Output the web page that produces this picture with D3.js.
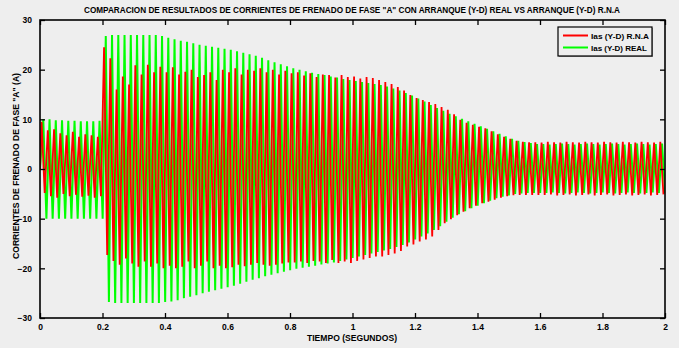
<!DOCTYPE html>
<html>
<head>
<meta charset="utf-8">
<script src="https://cdn.jsdelivr.net/npm/d3@7"></script>
<style>
  html, body { margin: 0; padding: 0; background: #eeeeee; }
  svg { display: block; font-family: "Liberation Sans", Arial, sans-serif; font-weight: bold; }
</style>
</head>
<body>
<div id="chart"></div>
<script>
// Comparison of phase "A" braking currents, RNA vs real (Y-D start)
// one entry per 50 Hz cycle: positive peak and negative trough of each cycle
const period = 0.02;
const xTicks = [0, 0.2, 0.4, 0.6, 0.8, 1, 1.2, 1.4, 1.6, 1.8, 2];
const yTicks = [-30, -20, -10, 0, 10, 20, 30];

const rnaPeaks = [
  9.5, 7.8, 8, 7.2, 6.8, 7.5, 6.5, 7, 6.8, 6.5,
  24.5, 22.3, 16, 18.6, 17, 20.9, 19, 21, 19.5, 20.6,
  19.5, 20.5, 19, 19.6, 20, 18.5, 18.9, 19.5, 17.9, 20,
  19.5, 20.3, 19, 20, 19.8, 20.3, 19.5, 20, 19, 19.8,
  19.3, 19.5, 18.8, 19.3, 18.5, 19, 18.9, 18.4, 18.9, 18.5,
  18.6, 18.2, 18.5, 18.3, 17.9, 17.5, 17.1, 16.5, 15.8, 14.9,
  14.3, 13.9, 13.5, 13.1, 12.5, 11.9, 11, 9.9, 9.3, 8.9,
  8.5, 8.2, 7.6, 7, 6.5, 6.1, 5.7, 5.5, 5.4, 5.4,
  5.3, 5.5, 5.4, 5.3, 5.5, 5.4, 5.3, 5.5, 5.4, 5.3,
  5.5, 5.4, 5.3, 5.5, 5.4, 5.3, 5.5, 5.4, 5.3, 5.5
];
const rnaTroughs = [
  -4.8, -5.5, -5.8, -5, -5.5, -5.2, -5.6, -5.4, -5.8, -5.5,
  -17.3, -18.5, -19.3, -18, -19, -19.7, -18.6, -19.7, -19, -20,
  -19.5, -20, -19.7, -18.6, -20, -19.5, -18.6, -20, -19.5, -20,
  -19.8, -19.3, -19.6, -19.3, -18.9, -19.3, -19.5, -19.3, -19, -18.8,
  -18.8, -18.6, -18.9, -18.5, -18.6, -18.9, -18.3, -18.9, -18.6, -18.9,
  -18.5, -18.2, -17.9, -17.6, -17.6, -17.3, -17, -16.5, -15.6, -15.2,
  -14.6, -14.2, -13.6, -12.3, -10.9, -10.1, -9.3, -8.6, -7.9, -7.4,
  -6.9, -6.6, -6.2, -5.8, -5.5, -5.3, -5.2, -5.2, -5.2, -5.2,
  -5.2, -5.1, -5.3, -5.2, -5.1, -5.3, -5.2, -5.1, -5.3, -5.2,
  -5.1, -5.3, -5.2, -5.1, -5.3, -5.2, -5.1, -5.3, -5.2, -5.1
];
const realPeaks = [
  10, 10, 9.8, 9.8, 9.7, 9.7, 9.6, 9.6, 9.6, 9.7,
  26.8, 27, 27, 27, 27, 27, 27, 27, 27, 26.8,
  26.4, 26.1, 25.8, 25.6, 25.3, 25, 24.8, 24.6, 24.4, 24.2,
  24, 23.7, 23.4, 23.1, 22.8, 22.4, 21.9, 21.5, 21.1, 20.7,
  20.3, 20, 19.7, 19.4, 19.1, 18.9, 18.6, 18.4, 18.1, 17.9,
  17.7, 17.5, 17.3, 17.1, 16.9, 16.6, 16.2, 15.8, 15.3, 14.8,
  14.2, 13.6, 12.9, 12.3, 11.7, 11.1, 10.6, 10.1, 9.6, 9.1,
  8.6, 8.1, 7.6, 7.1, 6.6, 6.1, 5.7, 5.4, 5.2, 5,
  5, 4.9, 5, 5.1, 5, 4.9, 5, 5.1, 5, 4.9,
  5, 5.1, 5, 4.9, 5, 5.1, 5, 4.9, 5, 5.1
];
const realTroughs = [
  -10, -10, -10, -10, -10, -10, -10, -10, -10, -10,
  -26.8, -27, -27, -27, -27, -27, -27, -27, -27, -26.8,
  -26.7, -26.4, -26, -25.7, -25.4, -25, -24.7, -24.4, -24.1, -23.8,
  -23.5, -23.1, -22.7, -22.3, -22, -21.6, -21.3, -21, -20.7, -20.4,
  -20.1, -19.9, -19.7, -19.5, -19.2, -19, -18.8, -18.5, -18.2, -17.9,
  -17.6, -17.3, -17, -16.7, -16.4, -16.1, -15.7, -15.3, -14.8, -14.2,
  -13.6, -13, -12.3, -11.5, -10.6, -9.8, -9.1, -8.5, -7.9, -7.4,
  -6.9, -6.4, -5.9, -5.6, -5.3, -5, -4.9, -4.8, -4.8, -4.8,
  -4.8, -4.7, -4.8, -4.9, -4.8, -4.7, -4.8, -4.9, -4.8, -4.7,
  -4.8, -4.9, -4.8, -4.7, -4.8, -4.9, -4.8, -4.7, -4.8, -4.9
];

const seriesNames = ["Ias (Y-D) R.N.A", "Ias (Y-D) REAL"];
const seriesColors = ["#ff0000", "#00ff00"];

const W = 679, H = 348;
const x0 = 40, x1 = 665, y0 = 20, y1 = 318;

const x = d3.scaleLinear().domain([0, 2]).range([x0, x1]);
const y = d3.scaleLinear().domain([-30, 30]).range([y1, y0]);

function cycles(peaks, troughs, phase) {
  const pts = [{ t: 0, v: 0 }];
  peaks.forEach((p, k) => {
    pts.push({ t: phase + k * period, v: p });
    pts.push({ t: phase + k * period + period / 2, v: troughs[k] });
  });
  return pts;
}

const svg = d3.select('#chart').append('svg')
  .attr('width', W).attr('height', H);

svg.append('rect').attr('width', W).attr('height', H).attr('fill', '#eeeeee');

svg.append('clipPath').attr('id', 'clip')
  .append('rect').attr('x', x0).attr('y', y0)
  .attr('width', x1 - x0).attr('height', y1 - y0);

const line = d3.line().x(d => x(d.t)).y(d => y(d.v));

const plot = svg.append('g').attr('clip-path', 'url(#clip)');

plot.append('path')
  .datum(cycles(realPeaks, realTroughs, 0.0105))
  .attr('d', line)
  .attr('fill', 'none')
  .attr('stroke', seriesColors[1])
  .attr('stroke-width', 2);

plot.append('path')
  .datum(cycles(rnaPeaks, rnaTroughs, 0.005))
  .attr('d', line)
  .attr('fill', 'none')
  .attr('stroke', seriesColors[0])
  .attr('stroke-width', 1.8);

// axes: box with inward ticks on all sides
const fmt = d => d3.format('~g')(d);
svg.append('g').attr('transform', `translate(0,${y1})`)
  .call(d3.axisBottom(x).tickValues(xTicks).tickSizeInner(-5).tickSizeOuter(0).tickPadding(6).tickFormat(fmt));
svg.append('g').attr('transform', `translate(0,${y0})`)
  .call(d3.axisTop(x).tickValues(xTicks).tickSizeInner(-5).tickSizeOuter(0).tickFormat(''));
svg.append('g').attr('transform', `translate(${x0},0)`)
  .call(d3.axisLeft(y).tickValues(yTicks).tickSizeInner(-5).tickSizeOuter(0).tickPadding(8).tickFormat(fmt));
svg.append('g').attr('transform', `translate(${x1},0)`)
  .call(d3.axisRight(y).tickValues(yTicks).tickSizeInner(-5).tickSizeOuter(0).tickFormat(''));

svg.selectAll('.domain').remove();
svg.selectAll('.tick line').attr('stroke', '#000').attr('stroke-width', 1.3);
svg.selectAll('.tick text').attr('font-size', 8.5).attr('fill', '#000').attr('font-weight', 'bold');

svg.append('rect')
  .attr('x', x0).attr('y', y0)
  .attr('width', x1 - x0).attr('height', y1 - y0)
  .attr('fill', 'none').attr('stroke', '#000').attr('stroke-width', 1.6);

// title and labels
svg.append('text')
  .attr('x', 352).attr('y', 13)
  .attr('text-anchor', 'middle')
  .attr('font-size', 9)
  .attr('textLength', 536).attr('lengthAdjust', 'spacingAndGlyphs')
  .text('COMPARACION DE RESULTADOS DE CORRIENTES DE FRENADO DE FASE "A"  CON ARRANQUE (Y-D) REAL VS ARRANQUE (Y-D) R.N.A');

svg.append('text')
  .attr('x', 352).attr('y', 341)
  .attr('text-anchor', 'middle')
  .attr('font-size', 8.5)
  .attr('textLength', 90).attr('lengthAdjust', 'spacingAndGlyphs')
  .text('TIEMPO (SEGUNDOS)');

svg.append('text')
  .attr('transform', 'translate(19,166) rotate(-90)')
  .attr('text-anchor', 'middle')
  .attr('font-size', 8.5)
  .attr('textLength', 186).attr('lengthAdjust', 'spacingAndGlyphs')
  .text('CORRIENTES DE FRENADO DE FASE "A" (A)');

// legend
const lg = svg.append('g').attr('transform', 'translate(558,27)');
lg.append('rect').attr('x', 1).attr('y', 1).attr('width', 94).attr('height', 29)
  .attr('fill', '#999');
lg.append('rect').attr('width', 94).attr('height', 29)
  .attr('fill', '#eeeeee').attr('stroke', '#000').attr('stroke-width', 1.2);
seriesNames.forEach((name, i) => {
  const ly = 8.5 + i * 12;
  lg.append('line').attr('x1', 5).attr('x2', 30).attr('y1', ly).attr('y2', ly)
    .attr('stroke', seriesColors[i]).attr('stroke-width', 2);
  lg.append('text').attr('x', 33).attr('y', ly + 3)
    .attr('font-size', 8)
    .attr('textLength', name.length > 14 ? 58 : 56).attr('lengthAdjust', 'spacingAndGlyphs')
    .text(name);
});
</script>
</body>
</html>
